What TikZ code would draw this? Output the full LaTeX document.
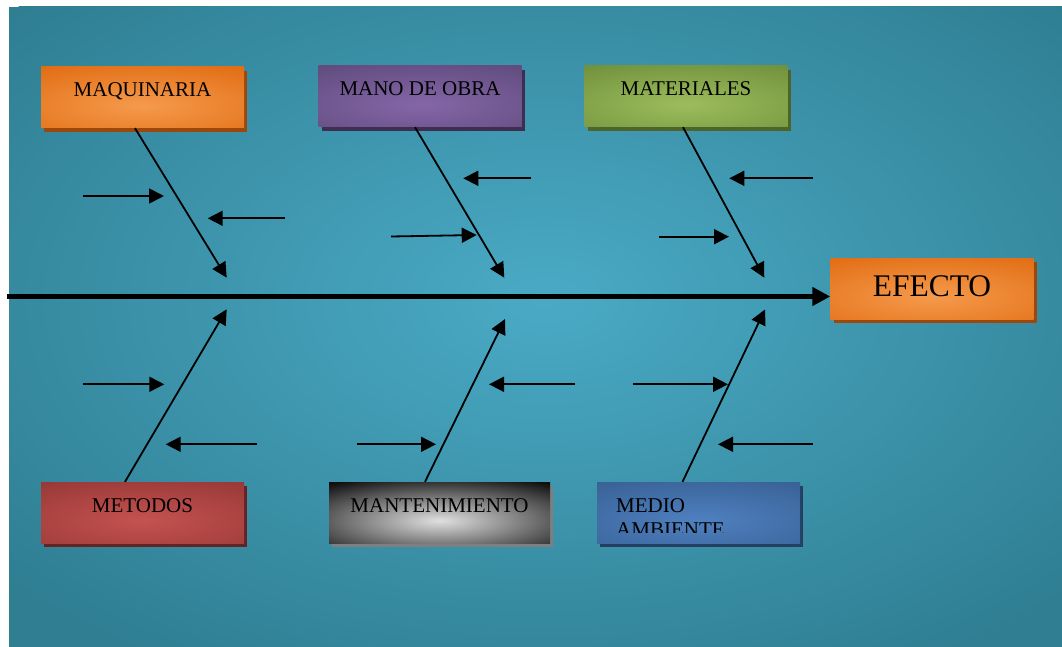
\documentclass[tikz,border=0pt]{standalone}
\usepackage{fontspec}
\setmainfont{Liberation Serif}
\usetikzlibrary{arrows.meta,shadows}
\definecolor{bgout}{HTML}{2F7E92}
\definecolor{bgin}{HTML}{4AAAC5}
\definecolor{orout}{HTML}{E06A10}
\definecolor{orin}{HTML}{F59A4C}
\definecolor{orsh}{HTML}{9C480A}
\definecolor{puout}{HTML}{5E4A7A}
\definecolor{puin}{HTML}{8466A8}
\definecolor{push}{HTML}{3E2F52}
\definecolor{grout}{HTML}{6E8F3A}
\definecolor{grin}{HTML}{9CBC5C}
\definecolor{grsh}{HTML}{4E6428}
\definecolor{reout}{HTML}{953735}
\definecolor{rein}{HTML}{C45250}
\definecolor{resh}{HTML}{632423}
\definecolor{blout}{HTML}{375F92}
\definecolor{blin}{HTML}{4F80C0}
\definecolor{blsh}{HTML}{243F60}
\definecolor{bkin}{HTML}{E0E0E0}
\definecolor{bksh}{HTML}{7F7F7F}
\tikzset{
  catbox/.style n args={3}{draw=none, fill=#1, minimum width=203pt, minimum height=61pt,
    inner sep=0pt, font=\fontsize{21}{24}\selectfont, text height=30pt, text depth=31pt,
    general shadow={fill=#3, shadow xshift=3pt, shadow yshift=-4pt},
    path picture={\shade[inner color=#2, outer color=#1]
      ([yshift=-8pt]path picture bounding box.center) ellipse (190 and 50);}},
  bone/.style={line width=1.8pt, -{Triangle[length=15pt,width=15pt]}},
  twig/.style={line width=1.8pt, -{Triangle[length=15pt,width=15pt]}},
  spine/.style={line width=5pt, -{Triangle[length=18pt,width=18pt]}},
}
\begin{document}
\begin{tikzpicture}[x=1pt,y=-1pt]
\useasboundingbox (0,0) rectangle (1062,647);
% background
\fill[bgout] (9,7) rectangle (1062,647);
\begin{scope}
  \clip (9,7) rectangle (1062,647);
  \shade[inner color=bgin, outer color=bgout] (545,300) ellipse (720 and 430);
\end{scope}

% category boxes
\node[catbox={orout}{orin}{orsh}] (maq) at (142.5,97.5) {MAQUINARIA};
\node[catbox={puout}{puin}{push}] (mano) at (420,96.5) {MANO DE OBRA};
\node[catbox={grout}{grin}{grsh}] (mat) at (686,96.5) {MATERIALES};
\node[catbox={reout}{rein}{resh}] (met) at (142.5,512.5) {METODOS};
\node[catbox={black}{bkin}{bksh}, minimum width=221pt] (mant) at (439.5,512.5) {MANTENIMIENTO};
\node[catbox={blout}{blin}{blsh}] (medio) at (698.5,512.5) {};
\begin{scope}
  \clip (597,482) rectangle (800,532.5);
  \node[anchor=base west, inner sep=0pt, font=\fontsize{21}{24}\selectfont] (medioa) at (616,512) {MEDIO};
  \node[anchor=base west, inner sep=0pt, font=\fontsize{21}{24}\selectfont] (mediob) at (616,536) {AMBIENTE};
\end{scope}
\node[catbox={orout}{orin}{orsh}, font=\fontsize{31.5}{36}\selectfont, text height=38.7pt, text depth=22.3pt] (efecto) at (932,288.5) {EFECTO};

% spine
\coordinate (s0) at (7,296.5);
\draw[spine] (s0) -- (efecto.west |- s0);

% bone ends
\coordinate (e1) at (226.7,277.7);
\coordinate (e2) at (504.3,277.7);
\coordinate (e3) at (764.3,277.7);
\coordinate (e4) at (226.7,309.3);
\coordinate (e5) at (505,319);
\coordinate (e6) at (765,309.5);
\draw[bone] ([xshift=-7.5pt]maq.south) -- (e1);
\draw[bone] ([xshift=-5pt]mano.south) -- (e2);
\draw[bone] ([xshift=-3pt]mat.south) -- (e3);
\draw[bone] ([xshift=-17.5pt]met.north) -- (e4);
\draw[bone] ([xshift=-14.5pt]mant.north) -- (e5);
\draw[bone] ([xshift=-16pt]medio.north) -- (e6);

% small arrows
\coordinate (a1s) at (83,196);   \coordinate (a1e) at (164,196);
\coordinate (a2s) at (285,218.3); \coordinate (a2e) at (207.7,218.3);
\coordinate (a3s) at (531,178.3); \coordinate (a3e) at (463.3,178.3);
\coordinate (a4s) at (391,236.5); \coordinate (a4e) at (476.7,235);
\coordinate (a5s) at (813,178.3); \coordinate (a5e) at (729.3,178.3);
\coordinate (a6s) at (659,236.7); \coordinate (a6e) at (729,236.7);
\coordinate (a7s) at (83,384.3);  \coordinate (a7e) at (164.3,384.3);
\coordinate (a8s) at (257,444.3); \coordinate (a8e) at (165.7,444.3);
\coordinate (a9s) at (575,384.3); \coordinate (a9e) at (489,384.3);
\coordinate (a10s) at (357,444.3); \coordinate (a10e) at (436,444.3);
\coordinate (a11s) at (633,384.3); \coordinate (a11e) at (728,384.3);
\coordinate (a12s) at (813,444.3); \coordinate (a12e) at (718,444.3);
\foreach \i in {1,...,12} {\draw[twig] (a\i s) -- (a\i e);}
\end{tikzpicture}
\end{document}
